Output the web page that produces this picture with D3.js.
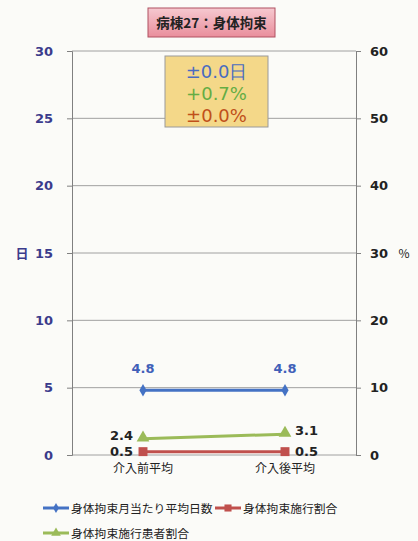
<!DOCTYPE html>
<html><head><meta charset="utf-8">
<script src="https://cdn.jsdelivr.net/npm/d3@7"></script>
<style>body{margin:0;background:#fbfbf8;}svg{display:block;font-family:"Noto Sans CJK JP","Noto Sans",sans-serif;}</style>
</head><body><svg id="c" width="418" height="541"></svg>
<script>
const categories = ["介入前平均","介入後平均"];
const days = [4.8, 4.8];          // 身体拘束月当たり平均日数 (left axis, 日)
const rate = [0.5, 0.5];          // 身体拘束施行割合 (right axis, %)
const patientRate = [2.4, 3.1];   // 身体拘束施行患者割合 (right axis, %)
const leftTicks = [0,5,10,15,20,25,30];
const rightTicks = [0,10,20,30,40,50,60];
const title = "病棟27：身体拘束";
const notes = ["±0.0日","+0.7%","±0.0%"];
const seriesNames = ["身体拘束月当たり平均日数","身体拘束施行割合","身体拘束施行患者割合"];

const svg = d3.select("#c");
const L = 72, R = 356, T = 51, B = 455;
const x = d3.scaleBand().domain(categories).range([L,R]);
const yL = d3.scaleLinear().domain([0,30]).range([B,T]);
const yR = d3.scaleLinear().domain([0,60]).range([B,T]);
const cx = d => x(d) + x.bandwidth()/2;

const defs = svg.append("defs");
const g1 = defs.append("linearGradient").attr("id","tg").attr("x1",0).attr("y1",0).attr("x2",0).attr("y2",1);
g1.append("stop").attr("offset","0").attr("stop-color","#f6c9d0");
g1.append("stop").attr("offset","1").attr("stop-color","#e98e9c");

// gridlines
svg.append("g").selectAll("line").data(leftTicks).join("line")
  .attr("x1",L).attr("x2",R).attr("y1",d=>yL(d)).attr("y2",d=>yL(d))
  .attr("stroke","#a0a0a0").attr("stroke-width",1);

// axes
const axL = svg.append("g").attr("transform",`translate(${L},0)`)
  .call(d3.axisLeft(yL).tickValues(leftTicks).tickSize(5).tickPadding(14));
axL.selectAll("text").attr("fill","#3b3b8c").attr("font-size",13).attr("font-weight","bold").attr("font-family","Verdana,DejaVu Sans,sans-serif");
axL.selectAll("line,path").attr("stroke","#808080");
const axR = svg.append("g").attr("transform",`translate(${R},0)`)
  .call(d3.axisRight(yR).tickValues(rightTicks).tickSize(5).tickPadding(9));
axR.selectAll("text").attr("fill","#222").attr("font-size",13).attr("font-weight","bold").attr("font-family","Verdana,DejaVu Sans,sans-serif");
axR.selectAll("line,path").attr("stroke","#808080");

svg.append("text").attr("x",22).attr("y",yL(15)+5).attr("text-anchor","middle")
  .attr("fill","#3b3b8c").attr("font-size",13).attr("font-weight","bold").text("日");
svg.append("text").attr("x",404).attr("y",yR(30)+5).attr("text-anchor","middle")
  .attr("fill","#222").attr("font-size",12).text("%");

// category labels
svg.append("g").selectAll("text").data(categories).join("text")
  .attr("x",d=>cx(d)).attr("y",473).attr("text-anchor","middle")
  .attr("font-size",12).attr("fill","#222").text(d=>d);

// series
const colors = ["#4472c4","#c0504d","#9bbb59"];
function line(vals, scale, color, width){
  svg.append("path").datum(vals).attr("fill","none").attr("stroke",color).attr("stroke-width",width)
    .attr("d", d3.line().x((d,i)=>cx(categories[i])).y(d=>scale(d)));
}
line(days, yL, colors[0], 3);
line(patientRate, yR, colors[2], 3);
line(rate, yR, colors[1], 3);

const sym = (type,size)=>d3.symbol().type(type).size(size)();
svg.append("g").selectAll("path").data(days).join("path")
  .attr("transform",(d,i)=>`translate(${cx(categories[i])},${yL(d)})`).attr("d",sym(d3.symbolDiamond,45)).attr("fill",colors[0]);
svg.append("g").selectAll("path").data(patientRate).join("path")
  .attr("transform",(d,i)=>`translate(${cx(categories[i])},${yR(d)-1})`).attr("d",sym(d3.symbolTriangle,70)).attr("fill",colors[2]);
svg.append("g").selectAll("path").data(rate).join("path")
  .attr("transform",(d,i)=>`translate(${cx(categories[i])},${yR(d)})`).attr("d",sym(d3.symbolSquare,80)).attr("fill",colors[1]);

// data labels
const lf = "Verdana,DejaVu Sans,sans-serif";
svg.append("g").selectAll("text").data(days).join("text")
  .attr("x",(d,i)=>cx(categories[i])).attr("y",d=>yL(d)-17).attr("text-anchor","middle")
  .attr("font-family",lf).attr("font-size",13).attr("font-weight","bold").attr("fill","#4060b8").text(d=>d.toFixed(1));
svg.append("g").selectAll("text").data(patientRate).join("text")
  .attr("x",(d,i)=>cx(categories[i])+(i===0?-10:10)).attr("y",d=>yR(d)+1)
  .attr("text-anchor",(d,i)=>i===0?"end":"start")
  .attr("font-family",lf).attr("font-size",13).attr("font-weight","bold").attr("fill","#222").text(d=>d.toFixed(1));
svg.append("g").selectAll("text").data(rate).join("text")
  .attr("x",(d,i)=>cx(categories[i])+(i===0?-10:10)).attr("y",d=>yR(d)+4)
  .attr("text-anchor",(d,i)=>i===0?"end":"start")
  .attr("font-family",lf).attr("font-size",13).attr("font-weight","bold").attr("fill","#222").text(d=>d.toFixed(1));

// title
svg.append("rect").attr("x",148).attr("y",8).attr("width",127).attr("height",29)
  .attr("fill","url(#tg)").attr("stroke","#b05060").attr("stroke-width",1);
svg.append("text").attr("x",211.5).attr("y",28).attr("text-anchor","middle")
  .attr("font-size",13.5).attr("font-weight","bold").attr("fill","#222").text(title);

// notes box
svg.append("rect").attr("x",165).attr("y",56).attr("width",103).attr("height",71)
  .attr("fill","#f4d889").attr("stroke","#9a9a9a").attr("stroke-width",1);
const noteColors = ["#4a6cc0","#64ad44","#c0501a"];
svg.append("g").selectAll("text").data(notes).join("text")
  .attr("x",216.5).attr("y",(d,i)=>78+i*22).attr("text-anchor","middle")
  .attr("font-family","Verdana,DejaVu Sans,sans-serif").attr("font-size",18)
  .attr("fill",(d,i)=>noteColors[i]).text(d=>d);

// legend
const leg = [
  {x:43,y:508,c:colors[0],s:d3.symbolDiamond,sz:30},
  {x:215,y:508,c:colors[1],s:d3.symbolSquare,sz:50},
  {x:43,y:533,c:colors[2],s:d3.symbolTriangle,sz:40}
];
leg.forEach((l,i)=>{
  svg.append("line").attr("x1",l.x).attr("x2",l.x+26).attr("y1",l.y).attr("y2",l.y).attr("stroke",l.c).attr("stroke-width",3);
  svg.append("path").attr("transform",`translate(${l.x+13},${l.y})`).attr("d",sym(l.s,l.sz)).attr("fill",l.c);
  svg.append("text").attr("x",l.x+28).attr("y",l.y+4.5).attr("font-size",11.8).attr("fill","#222").text(seriesNames[i]);
});
</script></body></html>
